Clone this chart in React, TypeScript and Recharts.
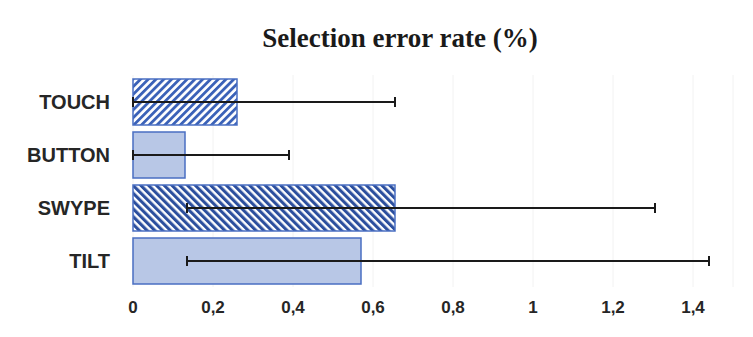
/**
 * SelectionErrorChart
 * Horizontal bars with asymmetric error bars, per input method.
 */
import { BarChart, Bar, XAxis, YAxis, CartesianGrid, Cell, ErrorBar } from "recharts";

const categories = ["TOUCH", "BUTTON", "SWYPE", "TILT"];
const errorRate = [0.26, 0.13, 0.655, 0.57];
// ends of the error bars
const errorLow = [0, 0, 0.135, 0.135];
const errorHigh = [0.655, 0.39, 1.305, 1.44];
const xTicks = [0, 0.2, 0.4, 0.6, 0.8, 1, 1.2, 1.4];
const fills = ["url(#hatchFwd)", "#b8c7e6", "url(#hatchBack)", "#b8c7e6"];

const data = categories.map((name, i) => ({
  name,
  rate: errorRate[i],
  err: [errorRate[i] - errorLow[i], errorHigh[i] - errorRate[i]],
}));

const fmt = (v: number) => String(v).replace(".", ",");

export default function App() {
  return (
    <div
      style={{
        position: "absolute",
        left: 0,
        top: 0,
        width: 753,
        height: 337,
        background: "#fff",
        overflow: "hidden",
      }}
    >
      <div
        style={{
          position: "absolute",
          left: 0,
          width: 800,
          top: 23,
          textAlign: "center",
          fontFamily: "'Liberation Serif', serif",
          fontWeight: "bold",
          fontSize: 27,
          color: "#1a1a1a",
        }}
      >
        Selection error rate (%)
      </div>
      <BarChart
        width={753}
        height={337}
        data={data}
        layout="vertical"
        margin={{ top: 75, right: 20, left: 0, bottom: 20 }}
        barSize={46}
      >
        <defs>
          <pattern id="hatchFwd" patternUnits="userSpaceOnUse" width={5.5} height={5.5} patternTransform="rotate(45)">
            <rect width={5.5} height={5.5} fill="#ffffff" />
            <rect width={2.8} height={5.5} fill="#3b62b8" />
          </pattern>
          <pattern id="hatchBack" patternUnits="userSpaceOnUse" width={5.5} height={5.5} patternTransform="rotate(-45)">
            <rect width={5.5} height={5.5} fill="#ffffff" />
            <rect width={3.1} height={5.5} fill="#2c4f9e" />
          </pattern>
        </defs>
        <CartesianGrid horizontal={false} stroke="#f2f2f2" />
        <XAxis
          type="number"
          domain={[0, 1.5]}
          ticks={xTicks}
          tickFormatter={fmt}
          axisLine={false}
          tickLine={false}
          tickSize={0}
          tickMargin={14}
          height={30}
          tick={{ fontFamily: "'Liberation Sans', sans-serif", fontWeight: "bold", fontSize: 17, fill: "#262626" }}
        />
        <YAxis
          type="category"
          dataKey="name"
          width={133}
          axisLine={false}
          tickLine={false}
          tickSize={0}
          tickMargin={23}
          tick={{ fontFamily: "'Liberation Sans', sans-serif", fontWeight: "bold", fontSize: 20, fill: "#262626" }}
        />
        <Bar dataKey="rate" stroke="#4a6fc2" strokeWidth={1.5} isAnimationActive={false}>
          {data.map((d, i) => (
            <Cell key={d.name} fill={fills[i]} />
          ))}
          <ErrorBar dataKey="err" direction="x" width={5} stroke="#1a1a1a" strokeWidth={2} />
        </Bar>
      </BarChart>
    </div>
  );
}
